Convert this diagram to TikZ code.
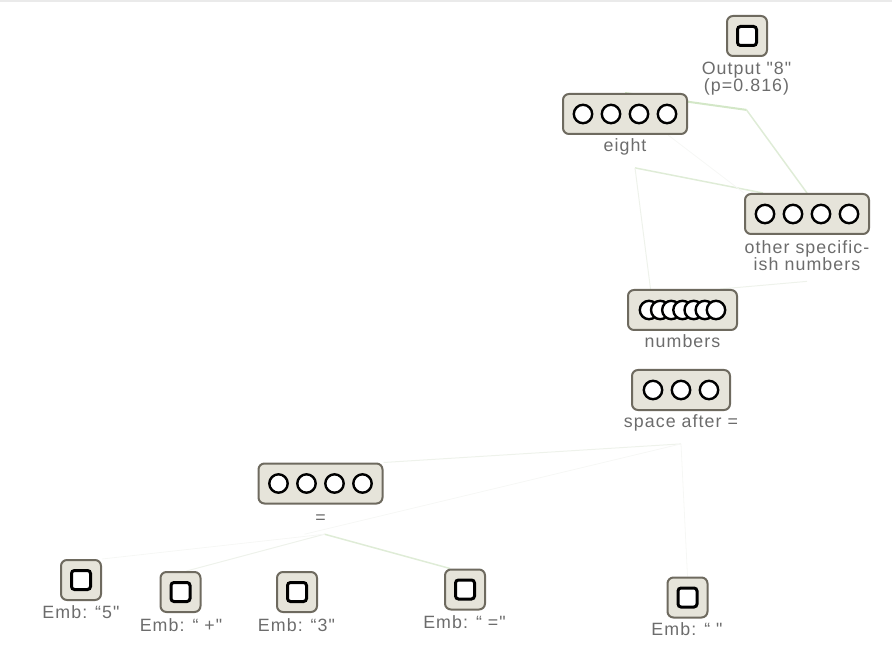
\documentclass[tikz,border=0pt]{standalone}
\usepackage{fontspec}
\newfontfamily\labfont{Liberation Sans}[LetterSpace=6]
\usetikzlibrary{backgrounds}
\definecolor{boxfill}{HTML}{E6E4DA}
\definecolor{boxdraw}{HTML}{6E6A5F}
\definecolor{labtext}{HTML}{6C6C6C}
\definecolor{topline}{HTML}{EAEAEA}
\definecolor{edgeA}{HTML}{D3E7C7}
\definecolor{edgeB}{HTML}{DFECD7}
\definecolor{edgeC}{HTML}{EEF2EB}
\definecolor{edgeD}{HTML}{F6F7F5}
\begin{document}
\begin{tikzpicture}[x=1pt,y=-1pt,
  unitbox/.style={draw=boxdraw, fill=boxfill, line width=2pt, rounded corners=6pt, minimum height=40pt, inner sep=0pt},
  wide4/.style={unitbox, minimum width=124pt},
  wide7/.style={unitbox, minimum width=109pt},
  wide3/.style={unitbox, minimum width=98pt},
  single/.style={unitbox, minimum width=40pt},
  lab/.style={text=labtext, font=\labfont\fontsize{17.8}{17}\selectfont, inner sep=0pt, anchor=base},
  circ/.style={draw=black, fill=white, line width=2.4pt},
  sq/.style={draw=black, fill=white, line width=3pt, rounded corners=3pt},
  edgestrong/.style={draw=edgeA, line width=2pt},
  edgemid/.style={draw=edgeB, line width=1.5pt},
  edgefaint/.style={draw=edgeC, line width=1pt},
  edgeghost/.style={draw=edgeD, line width=0.8pt},
]
\useasboundingbox (0,0) rectangle (892,652);
\fill[topline] (0,0) rectangle (892,1.6);

% boxes
\node[single] (out) at (747,36) {};
\node[wide4] (eight) at (625,114) {};
\node[wide4] (other) at (807,214) {};
\node[wide7] (num) at (682.5,310) {};
\node[wide3] (space) at (681,390) {};
\node[wide4] (eq) at (320.5,483.5) {};
\node[single] (emb5) at (81,580) {};
\node[single] (embplus) at (180.5,592) {};
\node[single] (emb3) at (297,592) {};
\node[single] (embeq) at (465,589.5) {};
\node[single] (embsp) at (687.5,597.5) {};

% circles
\foreach \dx in {-42,-14,14,42} {
  \draw[circ] ([xshift=\dx pt]eight.center) circle (9.2pt);
  \draw[circ] ([xshift=\dx pt]other.center) circle (9.2pt);
  \draw[circ] ([xshift=\dx pt]eq.center) circle (9.2pt);
}
\foreach \dx in {-33.5,-22.33,-11.17,0,11.17,22.33,33.5}
  \draw[circ] ([xshift=\dx pt]num.center) circle (9.2pt);
\foreach \dx in {-28,0,28}
  \draw[circ] ([xshift=\dx pt]space.center) circle (9.2pt);
\foreach \n in {out,emb5,embplus,emb3,embeq,embsp}
  \draw[sq] ([shift={(-9.5pt,-9.5pt)}]\n.center) rectangle ([shift={(9.5pt,9.5pt)}]\n.center);

% labels
\node[lab] (outL1) at (746.5,75) {Output "8"};
\node[lab] (outL2) at (746.5,92) {(p=0.816)};
\node[lab] (eightL) at (625,152) {eight};
\node[lab] (otherL1) at (807,254) {other specific-};
\node[lab] (otherL2) at (807,271) {ish numbers};
\node[lab] (numL) at (682.5,348) {numbers};
\node[lab] (spaceL) at (681,428) {space after =};
\node[lab] (eqL) at (320.5,523) {=};
\node[lab] (emb5L) at (81,618) {Emb: “5"};
\node[lab] (embplusL) at (181,631) {Emb: “ +"};
\node[lab] (emb3L) at (296.5,631) {Emb: “3"};
\node[lab] (embeqL) at (464.5,628) {Emb: “ ="};
\node[lab] (embspL) at (687,635) {Emb: “ "};

\coordinate (outIn) at ([yshift=-14pt]outL2.south);
\coordinate (eightIn) at ([xshift=10pt,yshift=-12pt]eightL.south);
\coordinate (otherIn) at ([yshift=-10pt]otherL2.south);
\coordinate (spaceIn) at ([yshift=-12pt]spaceL.south);
\coordinate (eqIn) at ([xshift=4pt,yshift=-11pt]eqL.south);

% connectors
\begin{scope}[on background layer]
  \draw[edgestrong] (eight.north) -- (outIn);
  \draw[edgemid] (other.north) -- (outIn);
  \draw[edgemid] (eightIn) -- ([xshift=-44pt]other.north);
  \draw[edgeghost] ([xshift=43pt]eight.south) -- (other.north west);
  \draw[edgefaint] (eightIn) -- ([xshift=-32pt]num.north);
  \draw[edgefaint] ([xshift=38pt]num.north) -- (otherIn);
  \draw[edgefaint] (spaceIn) -- (eq.north east);
  \draw[edgeghost] (spaceIn) -- ([xshift=-20pt]eqIn);
  \draw[edgemid] (eqIn) -- ([xshift=-15pt]embeq.north);
  \draw[edgefaint] (eqIn) -- ([xshift=6pt]embplus.north);
  \draw[edgeghost] (eqIn) -- (emb5.north east);
  \draw[edgeghost] (spaceIn) -- (embsp.north);
\end{scope}
\end{tikzpicture}
\end{document}
